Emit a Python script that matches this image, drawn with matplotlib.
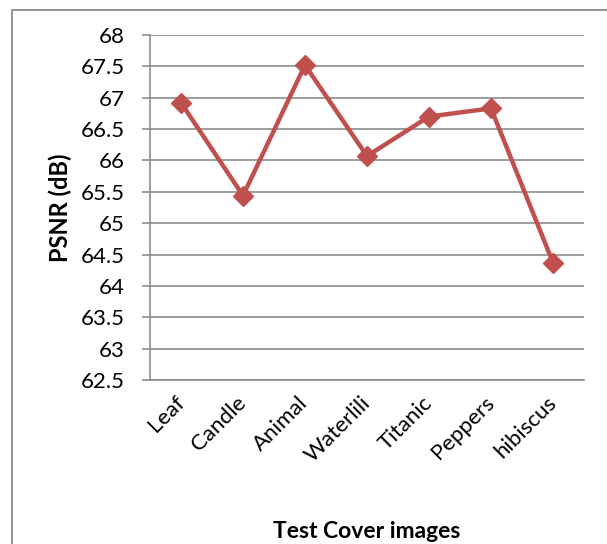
import matplotlib.pyplot as plt
from matplotlib.patches import Rectangle

# Data
images = ["Leaf", "Candle", "Animal", "Waterlili", "Titanic", "Peppers", "hibiscus"]
psnr = [66.92, 65.44, 67.52, 66.07, 66.70, 66.83, 64.37]
yticks = [62.5, 63, 63.5, 64, 64.5, 65, 65.5, 66, 66.5, 67, 67.5, 68]

plt.rcParams["font.family"] = ["Lato", "DejaVu Sans"]

fig = plt.figure(figsize=(6.07, 5.44), dpi=100)
ax = fig.add_axes([150 / 607, 1 - 380 / 544, 434 / 607, 345 / 544])

# Outer chart border (runs off the right and bottom edges)
fig.patches.append(Rectangle((12 / 607, -0.05), 1.0, 1 - 10 / 544 + 0.05,
                             transform=fig.transFigure, fill=False,
                             edgecolor="#8c8c8c", linewidth=1.3))

grid_col = "#8c8c8c"
x = range(len(images))
ax.plot(x, psnr, color="#C0504D", linewidth=3.2, marker="D",
        markersize=10, zorder=3)

ax.set_xlim(-0.5, len(images) - 0.5)
ax.set_ylim(62.5, 68)
ax.set_yticks(yticks)
ax.set_yticklabels([f"{v:g}" for v in yticks], fontsize=16)
ax.set_xticks(list(x))
ax.set_xticklabels(images, fontsize=16, rotation=45, ha="right",
                   va="center", rotation_mode="anchor")
ax.tick_params(axis="x", length=0, pad=14)
ax.tick_params(axis="y", length=5.5, width=1.2, color=grid_col, pad=12.5)

ax.grid(axis="y", color=grid_col, linewidth=1.2)
ax.set_axisbelow(True)
for side in ["top", "right"]:
    ax.spines[side].set_visible(False)
ax.spines["left"].set_color(grid_col)
ax.spines["bottom"].set_color(grid_col)
ax.spines["left"].set_linewidth(1.2)
ax.spines["bottom"].set_linewidth(1.2)

ax.set_ylabel("PSNR (dB)", fontsize=17, fontweight="bold")
ax.yaxis.set_label_coords(-0.18, 0.5)
ax.set_xlabel("Test Cover images", fontsize=16.5, fontweight="bold", labelpad=40)

plt.savefig("out.png", dpi=100)
